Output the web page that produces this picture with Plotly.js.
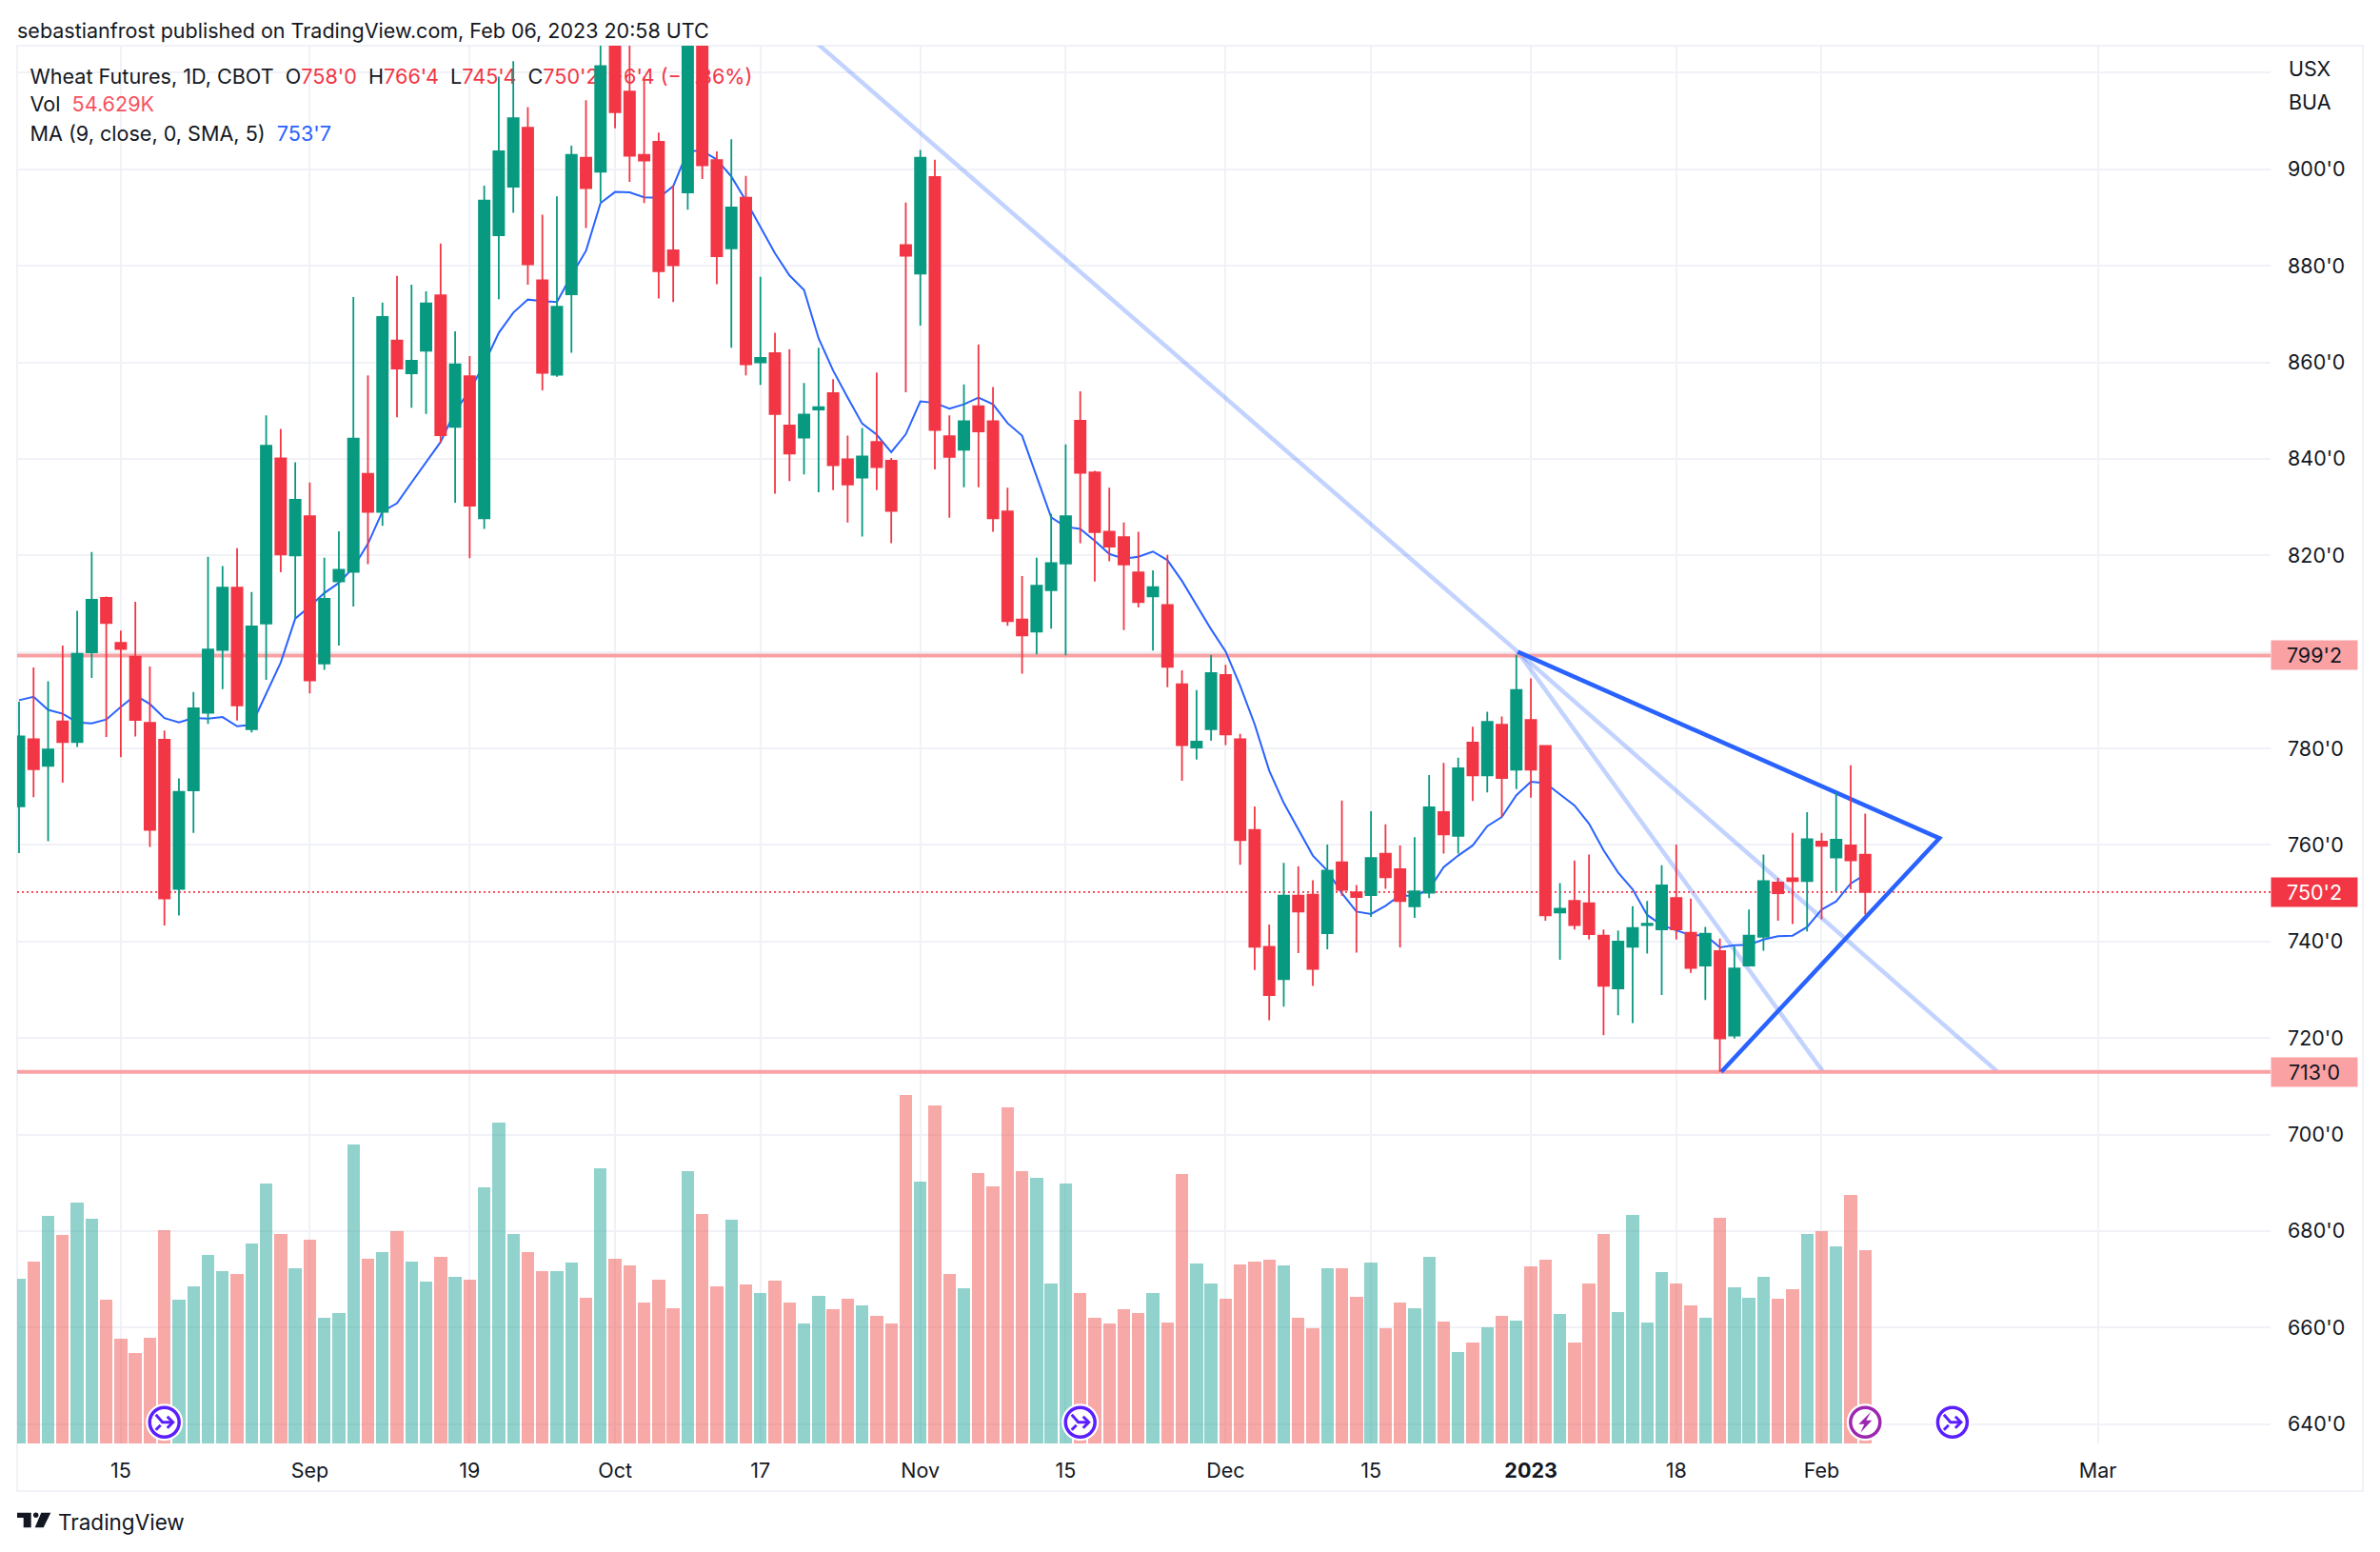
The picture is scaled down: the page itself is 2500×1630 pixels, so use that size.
<!DOCTYPE html>
<html>
<head>
<meta charset="utf-8">
<script src="https://cdn.plot.ly/plotly-3.0.1.min.js"></script>
<style>html,body{margin:0;padding:0;background:#fff}</style>
</head>
<body>
<div id="chart" style="width:2500px;height:1630px"></div>
<script>
const opens = [768,781.9,776.4,785.6,781.3,799.9,811.2,801.9,799,785.3,
781.8,750.9,771.3,787.4,800.4,813.3,784,805.9,840.1,820,
828.1,797.6,814.6,816.6,836.9,829,864.5,857.7,862.4,873.9,
846.6,857.1,827.7,886.3,896.4,908.6,877,857.4,874.1,902.4,
899.5,930,916.1,903,905.7,883.2,895.2,931,901.9,883.6,
894.1,860,861.9,846.9,844.4,850.2,853.6,839.9,836.1,843.5,
839.6,884.3,878.4,898.4,844.7,841.9,850.9,847.8,829.1,806.7,
804.2,812.8,818.3,847.9,837.2,824.9,823.8,816.5,811.5,809.7,
793.3,780.2,784,795.2,781.9,763.1,738.9,732.2,749.5,749.7,
741.7,756.4,750.2,749.6,758.2,755,747.3,750.1,766.8,761.9,
781.2,774.4,784.9,775.6,785.9,780.5,746,748.4,747.9,741.2,
730.3,738.9,743.4,742.5,749,741.8,735,738,720.5,735,
741,752.2,753.1,752.5,760.7,757.4,759.9,758];
const closes = [782.5,775.7,779.8,781.3,799.6,810.8,806,800.6,785.9,763.1,
748.9,771,788.3,800.5,813.3,788.9,805.3,842.7,820.2,831.5,
794.1,811,817,844.2,829,869.4,858.7,860.3,872.2,844.9,
859.6,830.3,893.5,903.7,910.6,880.3,857.8,871.5,903,896.1,
921.4,911.8,902.8,901.8,878.9,880.1,930,900.8,882,892.1,
859.6,860.9,849.3,841.1,849.2,850.7,838.7,834.7,840.5,838.3,
829.2,882.1,902.4,846,840.4,847.8,845.7,827.7,806.4,803.4,
813.7,818.4,828.1,837.1,824.8,821.8,818.1,810.3,813.4,796.9,
780.7,781.4,795.6,782.9,761,738.9,728.9,749.5,746.2,734.3,
754.7,750.7,749.2,757.3,753.3,748.4,750.4,767.8,762.2,775.9,
774.4,785.5,773.9,792.1,775.6,745.4,746.8,743.4,741.5,730.8,
740,742.8,743.7,751.6,742.5,734.5,741.6,719.9,734.4,741.2,
752.5,750,752.5,761.2,759.8,761.1,756.8,750.25];
const highs = [789.7,796.8,793.9,801.3,808.5,820.7,811.5,804.4,810.4,797,
783.7,773.8,791.7,819.7,817.8,821.5,812.4,849,846.2,839.3,
835.1,819.5,825,873.5,857.3,872.4,877.9,876.1,874.7,884.6,
866.4,861.3,896.6,919.2,922.4,912.9,890.6,894.4,904.9,914.3,
934,936,935,919.2,907.6,896.7,935,936,903.7,906.2,
898.6,877.7,866.1,862.7,855.7,863,856.5,844.8,846.4,857.9,
840.2,893.1,904,902,849,855.4,863.7,854.9,834,815.7,
819.5,828.6,843,854,837.5,834,826.8,824.9,816.9,820.1,
796.2,792.1,799.4,797.3,783,768,743.5,756.3,755.6,752.7,
760.1,769.2,751.7,767,764.3,759.9,761.6,774.5,777,778.1,
784.5,787.6,786.6,799.4,794.5,780.5,752.1,756.8,758,742.5,
742.3,747.3,748.4,755.8,760.1,748.9,743,740.6,739,746.6,
758,753.2,762.5,766.8,762.5,770.9,776.5,766.5];
const lows = [758.3,769.9,760.8,772.9,780.3,794.6,782.4,778.2,782.5,759.6,
743.3,745.4,762.5,785.1,792.3,785.8,783.3,794.2,816.5,806.9,
791.4,796.3,801.3,809.4,818.2,826.1,848.6,850.6,849.3,843.3,
830.9,819.4,825.5,873.1,891,876.1,854.2,857,862,887.8,
893.2,908.5,897.4,893,873.2,872.5,891.6,898,876.2,863,
857.3,855.3,832.8,835.4,836.8,833.1,833.5,826.8,823.9,833.5,
822.5,853.8,867.6,837.8,827.8,834.1,834.1,824.9,805.4,795.5,
799.5,804.8,799.3,822.5,814.6,818.8,804.5,809.2,800.3,792.7,
773.3,777.7,781.6,780.7,755.9,734.1,723.7,726.5,737.6,730.8,
738.4,749.5,737.7,745.1,750.9,738.8,744.9,749,758.2,758.2,
769.1,770.9,765.8,771.6,769.8,744.3,736.2,742.5,740.4,720.6,
724.7,723.1,737.5,728.9,740.4,733.5,727.9,713,719.9,735,
738.1,744.3,743.6,742.1,744.6,750.3,750.8,745.6];
const volumes = [46.7,51.5,64.3,59.0,68.1,63.5,40.6,29.7,25.6,30.0,
60.4,40.6,44.6,53.3,48.9,48.1,56.5,73.7,59.2,49.5,
57.7,35.5,37.0,84.6,52.4,54.1,60.2,51.5,45.7,52.9,
47.1,46.4,72.5,90.9,59.4,54.1,48.9,48.9,51.2,41.3,
77.8,52.2,50.5,39.9,46.4,38.2,77.1,65.0,44.6,63.3,
44.9,42.5,46.2,39.9,34.0,41.8,37.9,40.9,39.2,36.0,
34.0,98.6,74.2,95.7,48.1,44.0,76.6,72.7,95.0,77.1,
75.2,45.2,73.5,42.7,35.7,33.9,37.9,37.0,42.7,34.3,
76.2,51.0,45.2,41.0,50.7,51.5,51.9,50.3,35.5,32.6,
49.7,49.7,41.6,51.2,32.6,39.9,38.4,52.9,34.6,26.0,
28.5,33.0,36.0,34.8,50.0,51.9,36.7,28.7,45.4,59.2,
37.2,64.6,34.3,48.6,45.2,39.2,35.5,63.8,44.3,41.3,
47.1,41.0,43.7,59.4,60.0,55.9,70.4,54.6];
const maValues = [790,790.7,788,787.2,785.4,785.2,786,788.6,791,789.2,
786.3,785.4,786.3,786.2,786.5,784.6,784.9,791.4,797.8,806.9,
809.4,812.2,814.3,817.5,822.4,829.1,830.8,835.1,839.3,843.5,
849.9,854.1,859.7,866.1,870.3,873,872.7,872.5,878,883.1,
893,895.3,895.2,894.2,894.1,896.5,903.8,903.8,902,898.5,
893.5,887.9,882.6,878,875,865,858.3,852.7,847.3,845,
841.4,845.1,851.9,851.6,850.4,851.3,852.7,851.3,847.4,844.8,
836.5,827.9,825.9,825.5,823,820.3,819.3,819.7,820.8,819,
814.7,809.7,804.7,800.1,793,785,775.4,768.7,763.1,757.8,
754.7,750,746.2,745.7,747.4,749.6,749.4,750.8,755.4,757.8,
759.9,763.9,765.8,770.3,773.1,772.8,770.5,768.2,764.4,758.9,
754.3,750.8,745.5,743.4,742.3,741.3,741.3,738.8,739.2,739.3,
740.4,741.1,741.2,743,746.6,748.3,752,753.9];

const timeTickBars = [7,20,31,41,51,62,72,83,93,104,114,124,143];
const timeTickLabels = ['15','Sep','19','Oct','17','Nov','15','Dec','15','<b>2023</b>','18','Feb','Mar'];
const priceTicks = [640,660,680,700,720,740,760,780,800,820,840,860,880,900,920];
const priceLabels = ["640'0","660'0","680'0","700'0","720'0","740'0","760'0","780'0","","820'0","840'0","860'0","880'0","900'0",""];

const trendFirstX = [50,103.1];       const trendFirstY = [938.9,800];
const trendSecondX = [103.1,124.1];   const trendSecondY = [800,713];
const trendThirdX = [103.1,136.1];    const trendThirdY = [800,713];
const wedgeX = [103.1,132.1,117.1];   const wedgeY = [800,761.4,713];
const levelHigh = 799.25, levelLow = 713, lastPrice = 750.25;
const mergeEventBars = [10,73,133], earningsEventBars = [127], eventLevel = 640.4;

const GREEN='#089981', RED='#F23645', BLUE='#2962FF', PALE='rgba(41,98,255,0.28)', LEVEL='#FAA1A4', INK='#131722', GRID='#F0F2F7';
const MERGE='#5B1FFF', BOLT='#9C27B0';
const FONT='Inter, "Liberation Sans", sans-serif';
const bars = opens.map((_,i)=>i);
const L=18,R=2385,T=48,B=1516;
const xMin=-0.131, xMax=154.88, priceMin=636, priceMax=925.6, volMax=395.6;
const px=x=>(x-L)/(R-L), py=y=>(B-y)/(B-T);
const barPx=i=>L+(i-xMin)/(xMax-xMin)*(R-L);
const pricePx=p=>B-(p-priceMin)/(priceMax-priceMin)*(B-T);
const volColors = opens.map((o,i)=> closes[i]>=o ? 'rgba(38,166,154,0.5)' : 'rgba(239,83,80,0.5)');
const rep=(a)=>[xMin,xMax].map(()=>a);

const line=(x,y,color,width,extra)=>({type:'scatter',mode:'lines',x,y,yaxis:'y2',hoverinfo:'skip',line:{color,width,...(extra||{})}});
const R_='color:'+RED;
const legendLines = [
 `<span style="color:${INK}">Wheat Futures, 1D, CBOT  O</span><span style="${R_}">758'0</span><span style="color:${INK}">  H</span><span style="${R_}">766'4</span><span style="color:${INK}">  L</span><span style="${R_}">745'4</span><span style="color:${INK}">  C</span><span style="${R_}">750'2  −6'4 (−0.86%)</span>`,
 `<span style="color:${INK}">Vol  </span><span style="color:#F7525F">54.629K</span>`,
 `<span style="color:${INK}">MA (9, close, 0, SMA, 5)  </span><span style="color:${BLUE}">753'7</span>`
];
const eventBars = mergeEventBars.concat(earningsEventBars);
const traces = [
 {type:'bar',x:bars,y:volumes,yaxis:'y',width:0.875,marker:{color:volColors,line:{width:0}},hoverinfo:'skip'},
 {type:'scatter',mode:'text',x:[0.75,0.75,0.75],y:[918.8,913.1,907.0],text:legendLines,textposition:'middle right',
  textfont:{family:FONT,size:21.6,color:INK},yaxis:'y2',hoverinfo:'skip'},
 line(trendFirstX,trendFirstY,PALE,4.5),
 line(trendSecondX,trendSecondY,PALE,4.5),
 line(trendThirdX,trendThirdY,PALE,4.5),
 line([xMin,xMax],rep(levelHigh),LEVEL,4),
 line([xMin,xMax],rep(levelLow),LEVEL,4),
 line([xMin,xMax],rep(lastPrice),RED,1.8,{dash:'2px,3px'}),
 line(bars,maValues,BLUE,2),
 line(wedgeX,wedgeY,BLUE,4.5),
 {type:'candlestick',x:bars,open:opens,high:highs,low:lows,close:closes,yaxis:'y3',hoverinfo:'skip',whiskerwidth:0,
  increasing:{line:{color:GREEN,width:1.8},fillcolor:GREEN},
  decreasing:{line:{color:RED,width:1.8},fillcolor:RED}},
 {type:'scatter',mode:'markers',x:eventBars,y:eventBars.map(()=>eventLevel),yaxis:'y3',hoverinfo:'skip',
  marker:{symbol:'circle',size:39,color:'#fff'}},
 {type:'scatter',mode:'markers',x:eventBars,y:eventBars.map(()=>eventLevel),yaxis:'y3',hoverinfo:'skip',
  marker:{symbol:'circle',size:31,color:'#fff',line:{width:3.5,color:eventBars.map(b=>b===127?BOLT:MERGE)}}}
];
const tag=(y,text,bg,color)=>({xref:'paper',x:1,xanchor:'left',yref:'y2',y,yanchor:'middle',text,showarrow:false,
  width:90,height:30,align:'center',valign:'middle',bgcolor:bg,borderpad:0,font:{family:FONT,size:21.5,color}});
const note=(x,y,text,size)=>({xref:'paper',yref:'paper',x:px(x),y:py(y),xanchor:'left',yanchor:'middle',text,showarrow:false,align:'left',font:{family:FONT,size,color:INK}});
const poly=(pts,close)=>'M'+pts.map(p=>px(p[0])+','+py(p[1])).join('L')+(close?'Z':'');
const frame={type:'rect',xref:'paper',yref:'paper',x0:0,x1:px(2482),y0:py(1566),y1:1,line:{color:GRID,width:2},layer:'below'};
const logoShape=(pts)=>({type:'path',xref:'paper',yref:'paper',path:poly(pts,true),fillcolor:INK,line:{width:0}});
const stroke=(pts,color)=>({type:'path',xref:'paper',yref:'paper',path:poly(pts,false),line:{color,width:3}});
const evY=pricePx(eventLevel);
const mergeGlyphs=mergeEventBars.flatMap(b=>{const c=barPx(b);const at=(dx,dy)=>[c+dx,evY+dy];return [
  stroke([at(-9,-8),at(-2,0),at(9,0)],MERGE),
  stroke([at(3,-6),at(9,0),at(3,6)],MERGE),
  stroke([at(-9,8),at(-4,3)],MERGE)];});
const boltGlyphs=earningsEventBars.map(b=>{const c=barPx(b);const at=(dx,dy)=>[c+dx,evY+dy];
  return {type:'path',xref:'paper',yref:'paper',path:poly([at(6,-11),at(-7,2),at(-1,2),at(-5,11),at(7,-2),at(1,-2)],true),fillcolor:BOLT,line:{width:0}};});
const layout = {
 width:2500,height:1630,paper_bgcolor:'#fff',plot_bgcolor:'#fff',showlegend:false,
 margin:{l:L,r:2500-R,t:T,b:1630-B,pad:0},
 font:{family:FONT,size:21.5,color:INK},
 boxgap:0.27,boxgroupgap:0,
 bargap:0,
 xaxis:{type:'linear',range:[xMin,xMax],tickmode:'array',tickvals:timeTickBars,ticktext:timeTickLabels,
   showgrid:true,gridcolor:GRID,gridwidth:2,zeroline:false,showline:false,ticks:'',ticklabelstandoff:13,
   tickfont:{family:FONT,size:21.5,color:INK},rangeslider:{visible:false},tickangle:0},
 yaxis:{range:[0,volMax],visible:false,showgrid:false,zeroline:false,fixedrange:true},
 yaxis2:{range:[priceMin,priceMax],overlaying:'y',side:'right',anchor:'x',tickmode:'array',tickvals:priceTicks,ticktext:priceLabels,
   showgrid:true,gridcolor:GRID,gridwidth:2,zeroline:false,showline:false,ticks:'',ticklabelstandoff:17,
   tickfont:{family:FONT,size:21.5,color:INK}},
 yaxis3:{range:[priceMin,priceMax],overlaying:'y',side:'right',anchor:'x',visible:false,showgrid:false,zeroline:false},
 shapes:[frame,
   logoShape([[18,1588.7],[32.7,1588.7],[32.7,1604.3],[24.7,1604.3],[24.7,1594],[18,1594]]),
   logoShape([[43.3,1588.7],[53.3,1588.7],[45.7,1604.3],[36.7,1604.3]]),
   {type:'circle',xref:'paper',yref:'paper',x0:px(35),x1:px(40.4),y0:py(1594),y1:py(1588.6),fillcolor:INK,line:{width:0}},
   ...mergeGlyphs,...boltGlyphs],
 annotations:[
   note(16,32,'sebastianfrost published on TradingView.com, Feb 06, 2023 20:58 UTC',21.5),
   note(59,1598,'TradingView',22.5),
   note(2402,72,'USX',21.5),
   note(2402,107,'BUA',21.5),
   tag(levelHigh,"799'2",LEVEL,INK),
   tag(lastPrice,"750'2",RED,'#fff'),
   tag(levelLow,"713'0",LEVEL,INK)
 ]
};
Plotly.newPlot('chart',traces,layout,{displayModeBar:false,staticPlot:true});
</script>
</body>
</html>
